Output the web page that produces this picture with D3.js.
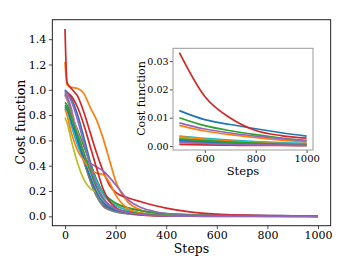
<!DOCTYPE html>
<html>
<head>
<meta charset="utf-8">
<script src="https://cdn.jsdelivr.net/npm/d3@7"></script>
<style>
  body { margin: 0; background: #fff; }
  text { font-family: "DejaVu Serif", serif; fill: #000; }
</style>
</head>
<body>
<svg id="fig" width="353" height="265"></svg>
<script>
// steps sampled for the main panel (0..400) and for the inset (500..1000)
let stepsMain = [0, 8, 25, 50, 75, 100, 125, 150, 175, 200, 250, 300, 350, 400];
let stepsTail = [500, 600, 700, 800, 900, 1000];

// cost values, one array per run (matplotlib colour cycle order)
let runBlueA    = [1.00, 0.98, 0.93, 0.80, 0.62, 0.43, 0.28, 0.18, 0.13, 0.10, 0.065, 0.045, 0.030, 0.021];
let runOrangeA  = [1.22, 1.04, 1.02, 1.01, 0.97, 0.86, 0.76, 0.62, 0.45, 0.28, 0.11, 0.05, 0.025, 0.013];
let runGreenA   = [0.90, 0.88, 0.80, 0.68, 0.55, 0.42, 0.29, 0.19, 0.14, 0.105, 0.068, 0.044, 0.029, 0.019];
let runRedA     = [1.48, 1.06, 1.01, 0.95, 0.82, 0.66, 0.50, 0.36, 0.25, 0.19, 0.145, 0.115, 0.088, 0.065];
let runPurpleA  = [0.98, 0.95, 0.85, 0.62, 0.47, 0.42, 0.39, 0.36, 0.31, 0.25, 0.13, 0.07, 0.04, 0.022];
let runBrown    = [0.96, 0.93, 0.82, 0.62, 0.44, 0.28, 0.16, 0.09, 0.06, 0.04, 0.022, 0.013, 0.008, 0.005];
let runPinkA    = [0.95, 0.92, 0.83, 0.66, 0.50, 0.35, 0.22, 0.13, 0.08, 0.055, 0.03, 0.017, 0.010, 0.006];
let runGray     = [0.97, 0.94, 0.82, 0.60, 0.43, 0.29, 0.16, 0.08, 0.05, 0.035, 0.02, 0.012, 0.007, 0.004];
let runOlive    = [0.78, 0.74, 0.60, 0.42, 0.29, 0.22, 0.19, 0.16, 0.12, 0.09, 0.05, 0.025, 0.013, 0.007];
let runCyan     = [0.87, 0.84, 0.72, 0.56, 0.45, 0.38, 0.28, 0.18, 0.12, 0.085, 0.045, 0.025, 0.014, 0.008];
let runBlueB    = [0.86, 0.84, 0.75, 0.60, 0.45, 0.31, 0.19, 0.11, 0.07, 0.05, 0.028, 0.016, 0.009, 0.005];
let runOrangeB  = [0.85, 0.80, 0.66, 0.52, 0.44, 0.37, 0.34, 0.33, 0.27, 0.17, 0.06, 0.025, 0.012, 0.006];
let runGreenB   = [0.88, 0.86, 0.78, 0.64, 0.50, 0.36, 0.23, 0.14, 0.09, 0.06, 0.035, 0.02, 0.012, 0.007];
let runRedB     = [0.99, 0.98, 0.95, 0.86, 0.72, 0.55, 0.38, 0.22, 0.12, 0.07, 0.03, 0.012, 0.005, 0.002];
let runPurpleB  = [0.99, 0.97, 0.91, 0.76, 0.58, 0.40, 0.25, 0.15, 0.09, 0.06, 0.03, 0.015, 0.008, 0.004];

// same runs from step 500 on
let tailBlueA   = [0.0125, 0.0093, 0.0076, 0.0061, 0.0047, 0.0035];
let tailOrangeA = [0.0073, 0.0053, 0.0040, 0.0030, 0.0021, 0.0014];
let tailGreenA  = [0.0100, 0.0072, 0.0054, 0.0040, 0.0028, 0.0019];
let tailRedA    = [0.0330, 0.0175, 0.0099, 0.0055, 0.0037, 0.0028];
let tailPurpleA = [0.0082, 0.0060, 0.0046, 0.0035, 0.0026, 0.0019];
let tailBrown   = [0.0020, 0.0015, 0.0011, 0.0008, 0.0006, 0.0004];
let tailPinkA   = [0.0025, 0.0018, 0.0013, 0.0010, 0.0007, 0.0005];
let tailGray    = [0.0015, 0.0011, 0.0008, 0.0006, 0.0004, 0.0003];
let tailOlive   = [0.0028, 0.0020, 0.0015, 0.0011, 0.0008, 0.0006];
let tailCyan    = [0.0035, 0.0027, 0.0021, 0.0016, 0.0012, 0.0009];
let tailBlueB   = [0.0020, 0.0015, 0.0011, 0.0008, 0.0006, 0.0004];
let tailOrangeB = [0.0033, 0.0024, 0.0017, 0.0012, 0.0009, 0.0007];
let tailGreenB  = [0.0025, 0.0019, 0.0014, 0.0010, 0.0007, 0.0005];
let tailRedB    = [0.0006, 0.0004, 0.0003, 0.0002, 0.0002, 0.0001];
let tailPurpleB = [0.0012, 0.0009, 0.0006, 0.0004, 0.0003, 0.0002];

let runs  = [runBlueA, runOrangeA, runGreenA, runRedA, runPurpleA, runBrown, runPinkA, runGray, runOlive, runCyan,
             runBlueB, runOrangeB, runGreenB, runRedB, runPurpleB];
let tails = [tailBlueA, tailOrangeA, tailGreenA, tailRedA, tailPurpleA, tailBrown, tailPinkA, tailGray, tailOlive, tailCyan,
             tailBlueB, tailOrangeB, tailGreenB, tailRedB, tailPurpleB];

let mainYTicks = [0, 0.2, 0.4, 0.6, 0.8, 1.0, 1.2, 1.4];
let mainXTicks = [0, 200, 400, 600, 800, 1000];
let insetYTicks = [0, 0.01, 0.02, 0.03];
let insetXTicks = [600, 800, 1000];

let full = runs.map((r, i) => stepsMain.map((s, j) => ({s: s, v: r[j]}))
  .concat(stepsTail.map((s, j) => ({s: s, v: tails[i][j]}))));
let tailPts = tails.map(t => stepsTail.map((s, j) => ({s: s, v: t[j]})));

let color = d3.scaleOrdinal(d3.range(10), d3.schemeCategory10);
let svg = d3.select("#fig");

// ---------- main panel ----------
let mx = d3.scaleLinear([-50, 1050], [52.35, 330.65]);
let my = d3.scaleLinear([-0.074, 1.554], [225.7, 19.7]);

let lineMain = d3.line().x(d => mx(d.s)).y(d => my(d.v)).curve(d3.curveMonotoneX);

svg.append("g")
  .selectAll("path")
  .data(full)
  .join("path")
  .attr("d", lineMain)
  .attr("fill", "none")
  .attr("stroke", (d, i) => color(i % 10))
  .attr("stroke-width", 1.7);

let gx = svg.append("g").attr("transform", "translate(0,225.7)")
  .call(d3.axisBottom(mx).tickValues(mainXTicks).tickFormat(d3.format("d")).tickSizeOuter(0).tickSize(3.5).tickPadding(2.5));
let gy = svg.append("g").attr("transform", "translate(52.35,0)")
  .call(d3.axisLeft(my).tickValues(mainYTicks).tickFormat(d3.format(".1f")).tickSizeOuter(0).tickSize(3.5).tickPadding(2.5));
[gx, gy].forEach(g => {
  g.select(".domain").remove();
  g.selectAll("line").attr("stroke", "#222").attr("stroke-width", 0.8);
  g.selectAll("text").style("font-size", "11px").attr("fill", "#000");
});

svg.append("rect")
  .attr("x", 52.35).attr("y", 19.7)
  .attr("width", 330.65 - 52.35).attr("height", 225.7 - 19.7)
  .attr("fill", "none").attr("stroke", "#222").attr("stroke-width", 1);

svg.append("text")
  .attr("x", (52.35 + 330.65) / 2).attr("y", 252.5)
  .attr("text-anchor", "middle").style("font-size", "12.5px")
  .text("Steps");
svg.append("text")
  .attr("transform", "translate(24.5,122) rotate(-90)")
  .attr("text-anchor", "middle").style("font-size", "12.5px")
  .text("Cost function");

// ---------- inset ----------
let ix = d3.scaleLinear([475, 1025], [173, 313]);
let iy = d3.scaleLinear([-0.0014, 0.0345], [150, 48.3]);

svg.append("rect")
  .attr("x", 173).attr("y", 48.3)
  .attr("width", 313 - 173).attr("height", 150 - 48.3)
  .attr("fill", "#fff");

let lineInset = d3.line().x(d => ix(d.s)).y(d => iy(d.v)).curve(d3.curveMonotoneX);

svg.append("g")
  .selectAll("path")
  .data(tailPts)
  .join("path")
  .attr("d", lineInset)
  .attr("fill", "none")
  .attr("stroke", (d, i) => color(i % 10))
  .attr("stroke-width", 1.7);

let igx = svg.append("g").attr("transform", "translate(0,150)")
  .call(d3.axisBottom(ix).tickValues(insetXTicks).tickFormat(d3.format("d")).tickSizeOuter(0).tickSize(3).tickPadding(1.5));
let igy = svg.append("g").attr("transform", "translate(173,0)")
  .call(d3.axisLeft(iy).tickValues(insetYTicks).tickFormat(d3.format(".2f")).tickSizeOuter(0).tickSize(3).tickPadding(1.5));
[igx, igy].forEach(g => {
  g.select(".domain").remove();
  g.selectAll("line").attr("stroke", "#222").attr("stroke-width", 0.8);
  g.selectAll("text").style("font-size", "9.5px").attr("fill", "#000");
});
igx.selectAll("text").style("font-size", "10px");

svg.append("rect")
  .attr("x", 173).attr("y", 48.3)
  .attr("width", 313 - 173).attr("height", 150 - 48.3)
  .attr("fill", "none").attr("stroke", "#999").attr("stroke-width", 1);

svg.append("text")
  .attr("x", (173 + 313) / 2).attr("y", 175)
  .attr("text-anchor", "middle").style("font-size", "11.5px")
  .text("Steps");
svg.append("text")
  .attr("transform", "translate(144.5,98.5) rotate(-90)")
  .attr("text-anchor", "middle").style("font-size", "11px")
  .text("Cost function");
</script>
</body>
</html>
